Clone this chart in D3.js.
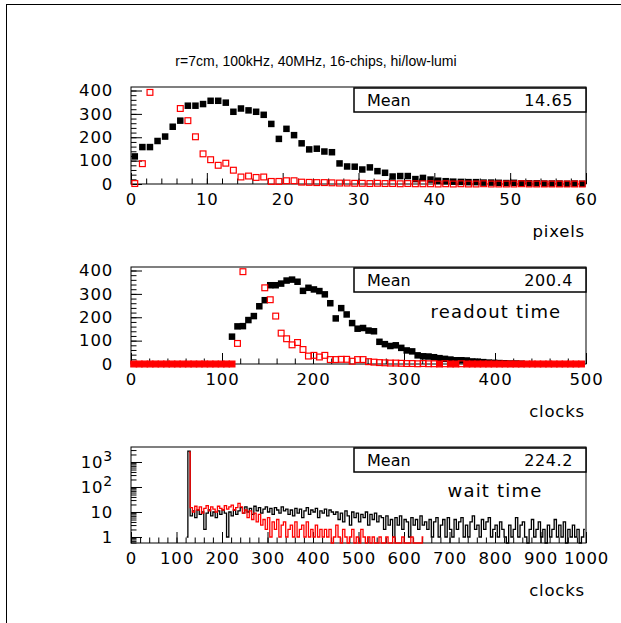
<!DOCTYPE html>
<html>
<head>
<meta charset="utf-8">
<script src="https://cdn.jsdelivr.net/npm/d3@7"></script>
<style>
  body { margin: 0; background: #fff; }
  svg text { font-family: "DejaVu Sans", sans-serif; fill: #000; }
  .tick text { font-size: 16.5px; letter-spacing: 0.8px; }
  .tick line { stroke: #000; }
</style>
</head>
<body>
<svg id="chart" width="621" height="623"></svg>
<script>
const title = 'r=7cm, 100kHz, 40MHz, 16-chips, hi/low-lumi';

// pixels: 60 bins of width 1
const pixelsHi = [118,158,158,184,203,245,271,335,335,342,356,356,348,309,323,315,309,296,257,193,
  236,209,174,148,151,139,136,88,75,74,62,71,55,48,32,34,34,21,26,19,
  14,12,10,9,8,8,6,6,5,4,5,3,3,3,2,2,2,1,2,1];
const pixelsLo = [2,87,392,560,610,470,323,271,202,129,104,80,89,59,30,34,28,30,11,11,
  14,14,8,7,6,6,5,4,4,3,3,2,3,2,2,1,2,1,1,1,
  0,1,0,1,0,0,1,0,0,0,0,1,0,0,0,0,0,0,0,0];

// readout time: bins of 6 clocks starting at 0
const readoutHi = [0,0,0,0,0,0,0,0,0,0,0,0,0,0,0,0,0,0,
  117,161,162,188,205,247,273,337,337,344,357,361,352,313,326,319,312,298,260,195,
  239,212,175,151,154,143,140,95,85,77,80,69,58,54,37,33,32,29,25,22,
  19,16,16,15,11,10,8,6,5,4,3,2,2,1,
  0,0,0,0,0,0,0,0,0,0,0];
const readoutLo = [0,0,0,0,0,0,0,0,0,0,0,0,0,0,0,0,0,0,0,
  88,395,480,530,450,326,275,205,132,108,82,92,62,34,37,30,37,19,19,20,
  20,12,19,19,10,8,6,5,4,4,3,2,2,1,2,1,1,0,1,0,0,1,
  0,0,0,0,0,0,0,0,0,0,0,0,0,0,0,0,0,0,0,0,0,0];

// wait time: bins of 5 clocks starting at 0
const waitHi = [0,0,0,0,0,0,0,0,0,0,0,0,0,0,0,0,0,0,0,0,0,0,0,0,1,2700,
  7,11,6,12,8,10,2,9,12,7,10,6,11,8,12,9,1,10,7,12,8,11,
  15,9,16,10,14,8,17,11,15,9,13,16,10,14,8,15,12,9,16,11,13,8,
  12,7,14,9,13,6,11,15,8,12,10,14,6,11,9,13,7,12,10,8,
  10,5,9,4,11,7,3,10,6,9,4,8,6,10,3,8,5,9,4,7,
  6,2,7,3,5,1,6,3,7,2,5,4,1,6,3,5,2,7,3,4,
  2,5,1,4,6,1,3,5,1,6,2,1,5,2,4,6,1,3,1,4,7,2,3,1,5,2,4,6,1,2,
  3,1,4,2,1,0,3,1,2,6,1,3,4,1,0,2,5,1,2,4,1,2,0,3,1,2,5,1,3,1,4,0,2,1,3,1,2,0,1,2];
const waitLo = [0,0,0,0,0,0,0,0,0,0,0,0,0,0,0,0,0,0,0,0,0,0,0,0,0,2500,
  15,10,17,12,16,9,14,18,11,16,13,10,17,14,12,18,13,16,19,12,15,22,
  16,9,12,6,11,5,9,4,8,3,
  5,2,6,1,4,2,5,1,3,4,1,2,
  3,1,4,1,2,3,1,4,1,2,1,3,1,2,1,2,
  1,2,0,1,3,1,0,2,1,0,1,2,0,1,0,2,1,0,1,0,1,0,0,1,0,
  0,1,0,0,1,0,0,0,1,0,0,0,1,0,0,0,0,1,0,0,0,0,0,0,
  0,0,0,0,0,0,0,0,0,0,0,0,0,0,0,0,0,0,0,0,0,0,0,0,0,0,0,0,0,0,0,0,0,0,0,0,0,0,0,0,
  0,0,0,0,0,0,0,0,0,0,0,0,0,0,0,0,0,0,0,0,0,0,0,0,0];

const meanValues = ['14.65', '200.4', '224.2'];
const xTicksPixels = [0,10,20,30,40,50,60];
const xTicksClocks = [0,100,200,300,400,500];
const xTicksWait = [0,100,200,300,400,500,600,700,800,900,1000];
const yTicksLin = [0,100,200,300,400];
const yTicksLog = [1,10,100,1000];

const svg = d3.select('#chart');
const left = 131, right = 586;

// outer pad frame
svg.append('rect')
  .attr('x', 6.5).attr('y', 4.5).attr('width', 700).attr('height', 700)
  .attr('fill', 'none').attr('stroke', '#000');

svg.append('text')
  .attr('x', 316).attr('y', 66)
  .attr('text-anchor', 'middle')
  .style('font-family', '"Liberation Sans", Arial, sans-serif')
  .style('font-size', '14px')
  .text(title);

function drawFrame(top, bottom, x, y, xMajor, xMinor, yMajor, yMinor, yLabel) {
  const g = svg.append('g');

  const xa = g.append('g').attr('transform', `translate(0,${bottom})`);
  xa.append('g').call(d3.axisBottom(x).tickValues(xMinor).tickSize(-5.5).tickSizeOuter(0).tickFormat(''));
  xa.append('g').call(d3.axisBottom(x).tickValues(xMajor).tickSize(-11).tickSizeOuter(0)
    .tickPadding(9).tickFormat(d3.format('d')));

  const ya = g.append('g').attr('transform', `translate(${left},0)`);
  ya.append('g').call(d3.axisLeft(y).tickValues(yMinor).tickSize(-5.5).tickSizeOuter(0).tickFormat(''));
  const major = ya.append('g').call(d3.axisLeft(y).tickValues(yMajor).tickSize(-11).tickSizeOuter(0)
    .tickPadding(18).tickFormat(yLabel || d3.format('d')));

  g.selectAll('.domain').remove();

  g.append('rect')
    .attr('x', left).attr('y', top)
    .attr('width', right - left).attr('height', bottom - top)
    .attr('fill', 'none').attr('stroke', '#000').attr('stroke-width', 1);
  return major;
}

function statsBox(top, value) {
  const g = svg.append('g');
  g.append('rect')
    .attr('x', 354).attr('y', top)
    .attr('width', right - 354).attr('height', 24)
    .attr('fill', '#fff').attr('stroke', '#000').attr('stroke-width', 1.5);
  g.append('text').attr('x', 367).attr('y', top + 18)
    .style('font-size', '16px').text('Mean');
  g.append('text').attr('x', 573).attr('y', top + 18)
    .attr('text-anchor', 'end').style('font-size', '16px').style('letter-spacing', '0.6px')
    .text(value);
}

function axisTitle(text, yPos) {
  svg.append('text').attr('x', 585).attr('y', yPos)
    .attr('text-anchor', 'end')
    .style('font-size', '16.5px').style('letter-spacing', '0.8px')
    .text(text);
}

// filled = solid squares; fillEmpty = open squares but solid when the bin is empty
function drawMarkers(x, y, width, start, values, color, filled, fillEmpty) {
  const ymax = y.domain()[1];
  const pts = values.map((v, i) => ({ c: start + (i + 0.5) * width, v }))
    .filter(d => d.v <= ymax && (!filled || d.v > 0));
  const s = filled ? 6.5 : 5.8;
  svg.append('g').selectAll('rect')
    .data(pts)
    .join('rect')
    .attr('x', d => x(d.c) - s / 2)
    .attr('y', d => y(d.v) - s / 2)
    .attr('width', s).attr('height', s)
    .attr('fill', d => (filled || (fillEmpty && d.v === 0)) ? color : 'none')
    .attr('stroke', filled ? 'none' : color)
    .attr('stroke-width', 1.2);
}

// ---- panel 1: pixels
const x1 = d3.scaleLinear([0, 60], [left, right]);
const y1 = d3.scaleLinear([0, 415], [184, 87]);
drawFrame(87, 184, x1, y1, xTicksPixels, d3.range(0, 61, 2), yTicksLin, d3.range(0, 401, 20));
drawMarkers(x1, y1, 1, 0, pixelsHi, '#000', true);
drawMarkers(x1, y1, 1, 0, pixelsLo, '#f00', false);
statsBox(88, meanValues[0]);
axisTitle('pixels', 237);

// ---- panel 2: readout time
const x2 = d3.scaleLinear([0, 500], [left, right]);
const y2 = d3.scaleLinear([0, 415], [364, 267]);
drawFrame(267, 364, x2, y2, xTicksClocks, d3.range(0, 501, 20), yTicksLin, d3.range(0, 401, 20));
drawMarkers(x2, y2, 6, 0, readoutHi, '#000', true);
drawMarkers(x2, y2, 6, 0, readoutLo, '#f00', false, true);
statsBox(268, meanValues[1]);
svg.append('text').attr('x', 496).attr('y', 318)
  .attr('text-anchor', 'middle')
  .style('font-size', '18px').style('letter-spacing', '1.2px')
  .text('readout time');
axisTitle('clocks', 417);

// ---- panel 3: wait time (log)
const x3 = d3.scaleLinear([0, 1000], [left, right]);
const y3 = d3.scaleLog([0.575, 3981], [543, 447]);
const logMinor = [0.6, 0.7, 0.8, 0.9];
[1, 10, 100, 1000].forEach(dec => {
  for (let m = 2; m <= 9; m++) if (dec * m < 3981) logMinor.push(dec * m);
});
const logAxis = drawFrame(447, 543, x3, y3, xTicksWait, d3.range(0, 1001, 20), yTicksLog, logMinor, () => '');
logAxis.selectAll('.tick text').each(function(d) {
  const t = d3.select(this);
  const p = Math.round(Math.log10(d));
  if (p < 2) {
    t.text(d);
  } else {
    t.append('tspan').text('10');
    t.append('tspan').attr('dy', -7).style('font-size', '14px').text(p);
  }
});

function drawSteps(values, width, color) {
  const first = values.findIndex(v => v > 0);
  let last = values.length - 1;
  while (last > 0 && values[last] === 0) last--;
  const pts = values.slice(first, last + 1).map((v, i) => ({ c: (first + i + 0.5) * width, v }));
  const ymin = y3.domain()[0];
  const line = d3.line()
    .x(d => x3(d.c))
    .y(d => y3(Math.max(d.v, ymin)))
    .curve(d3.curveStep);
  svg.append('path')
    .attr('d', line(pts))
    .attr('fill', 'none')
    .attr('stroke', color)
    .attr('stroke-width', 1.3);
}
drawSteps(waitHi, 5, '#000');
drawSteps(waitLo, 5, '#f00');

statsBox(448, meanValues[2]);
svg.append('text').attr('x', 495).attr('y', 497)
  .attr('text-anchor', 'middle')
  .style('font-size', '18px').style('letter-spacing', '1.2px')
  .text('wait time');
axisTitle('clocks', 596);
</script>
</body>
</html>
